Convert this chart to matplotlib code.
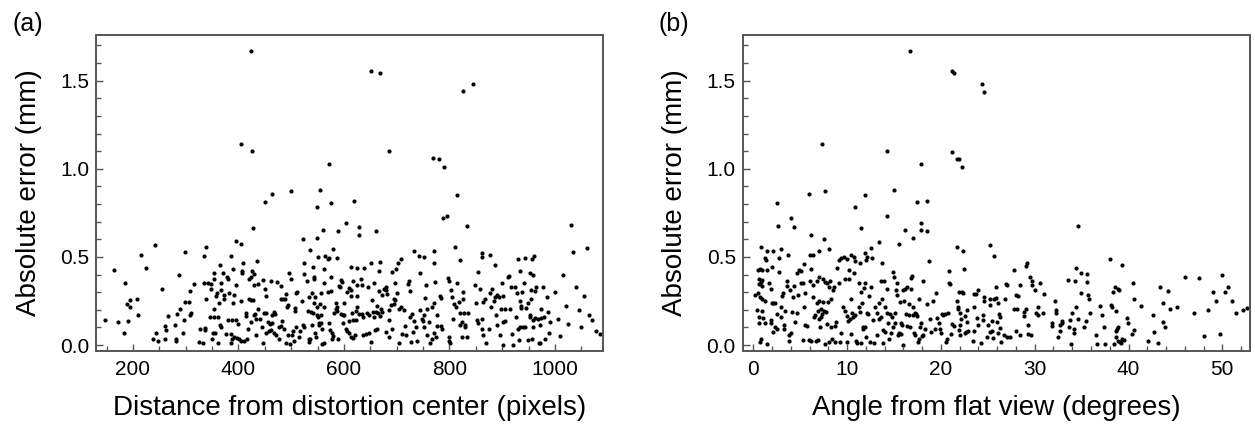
import matplotlib
matplotlib.use("Agg")
import matplotlib.pyplot as plt
from matplotlib.ticker import MultipleLocator, FormatStrFormatter

plt.rcParams['font.family'] = ['Liberation Sans', 'DejaVu Sans']

# ---------------- Panel (a): distance from distortion center ----------------
dist_px = [
    423, 404, 426, 463, 450, 500, 555, 549, 560, 428,
    242, 216, 165, 225, 298, 338, 334, 396, 404, 385,
    523, 548, 536, 550, 409, 435, 524, 541, 563,
    185, 188, 194, 195, 208, 210, 147, 172, 190, 184,
    255, 238, 244, 247, 261, 262, 266, 260, 280, 281,
    281, 284, 287, 290, 294, 296, 298, 308, 306, 311,
    309, 316, 325, 328, 333, 334, 337, 338, 337, 343,
    348, 348, 347, 349, 352, 356, 353, 354, 354, 354,
    357, 359, 362, 362, 363, 365, 365, 367, 366, 366,
    371, 373, 372, 376, 378, 381, 380, 383, 385, 386,
    387, 387, 389, 390, 391, 392, 396, 396, 397, 400,
    401, 404, 405, 407, 407, 410, 414, 415, 416, 419,
    420, 420, 423, 423, 424, 425, 428, 429, 429, 430,
    432, 433, 434, 438, 438, 440, 444, 447, 447, 448,
    450, 452, 452, 453, 456, 457, 459, 461, 462, 463,
    464, 467, 468, 469, 472, 473, 476, 477, 480, 480,
    481, 482, 485, 486, 488, 490, 490, 492, 493, 493,
    495, 497, 499, 501, 504, 506, 507, 507, 509, 510,
    511, 514, 516, 520, 523, 524, 525, 530, 531, 533,
    533, 534, 536, 538, 539, 540, 541, 543, 543, 544,
    545, 545, 547, 548, 549, 550, 552, 553, 555, 558,
    559, 562, 562, 563,
    652, 668, 826, 845, 685, 572, 575, 619, 768, 781,
    790, 814, 787, 796, 834, 588, 604, 629, 629, 661,
    580, 565, 572, 570, 586, 732, 742, 752, 771,
    770, 810, 820, 862, 862, 876, 887, 929, 944, 957,
    960, 613, 625, 638, 651, 668, 667, 692, 699, 703,
    708, 744, 855, 934, 952, 959, 912,
    557, 557, 557, 569, 571, 574, 575, 575, 577, 577,
    580, 582, 584, 585, 586, 586, 588, 590, 593, 594,
    595, 596, 598, 599, 601, 601, 604, 606, 606, 609,
    610, 610, 613, 613, 614, 615, 617, 618, 618, 620,
    622, 623, 624, 625, 625, 629, 633, 634, 634, 636,
    637, 641, 643, 646, 647, 648, 651, 653, 655, 656,
    657, 658, 660, 662, 662, 665, 666, 668, 670, 672,
    673, 676, 679, 679, 680, 681, 685, 685, 686, 689,
    692, 694, 695, 697, 697, 700, 704, 705, 708, 710,
    713, 716, 718, 721, 724, 725, 725, 728, 729, 730,
    733, 737, 739, 744, 748, 749, 751, 751, 754, 756,
    757, 758, 761, 763, 766, 767, 770, 771, 772, 775,
    776, 777, 782, 783, 783, 785, 797, 799, 799, 800,
    801, 802, 805, 807, 809, 813, 815, 818, 820, 820,
    823, 824, 825, 826, 828, 829, 830, 833, 835, 849,
    850, 852, 855, 858, 861, 862, 863, 864, 867, 869,
    874, 877, 878, 881, 885, 886, 888, 890, 891, 893,
    895, 897, 900, 901, 901, 902, 905, 906, 911, 915,
    917, 919, 921, 924, 926, 928, 930, 931, 933, 934,
    935, 936, 938, 940, 941, 944, 945, 948, 949, 952,
    953, 954, 955, 957, 958, 959, 962, 963, 964, 967,
    969, 971, 972, 973, 974, 977, 979, 981, 984, 987,
    988, 990,
    1000, 1005, 1010, 1015, 1020, 1025, 1030, 1035, 1040, 1045,
    1050, 1055, 1060, 1065, 1070, 1078, 1085,
]
dist_err = [
    1.669, 1.139, 1.101, 0.855, 0.812, 0.876, 0.880, 0.785, 0.653, 0.664,
    0.570, 0.513, 0.426, 0.437, 0.528, 0.558, 0.505, 0.589, 0.573, 0.505,
    0.604, 0.607, 0.541, 0.498, 0.464, 0.479, 0.467, 0.441, 0.430,
    .350, .233, .256, .218, .259, .168, .142, .131, .138, .066,
    .320, .036, .066, .021, .108, .085, .165, .032, .116, .036,
    .021, .176, .396, .206, .066, .142, .244, .305, .244, .184,
    .172, .346, .017, .093, .010, .354, .085, .259, .097, .350,
    .346, .316, .161, .032, .070, .066, .377, .407, .206, .157,
    .278, .293, .161, .010, .240, .116, .456, .104, .350, .312,
    .411, .263, .286, .063, .388, .373, .142, .293, .010, .063,
    .142, .036, .237, .434, .286, .047, .142, .343, .040, .119,
    .032, .025, .248, .422, .407, .021, .184, .165, .032, .093,
    .259, .377, .256, .131, .388, .418, .256, .403, .168, .339,
    .176, .146, .059, .346, .202, .150, .100, .369, .013, .180,
    .320, .180, .066, .278, .131, .078, .119, .085, .365, .123,
    .168, .187, .066, .176, .059, .358, .032, .100, .108, .259,
    .335, .134, .263, .089, .263, .290, .013, .218, .225, .059,
    .407, .006, .373, .059, .078, .021, .195, .210, .104, .293,
    .301, .047, .078, .252, .112, .403, .104, .365, .195, .032,
    .017, .274, .036, .187, .112, .297, .180, .237, .384, .377,
    .070, .274, .047, .168, .218, .157, .112, .123, .233, .093,
    .006, .010, .354, .218,
    1.557, 1.542, 1.440, 1.480, 1.099, 1.027, 0.808, 0.819, 1.061, 1.058,
    1.009, 0.853, 0.723, 0.734, 0.676, 0.649, 0.694, 0.670, 0.623, 0.645,
    .547, .505, .494, .486, .494, .535, .505, .498, .535,
    .464, .558, .483, .520, .498, .513, .452, .486, .494, .486,
    .505, .445, .437, .437, .464, .471, .418, .415, .430, .467,
    .486, .407, .415, .422, .411, .396, .392,
    .293, .172, .123, .301, .123, .085, .384, .309, .066, .032,
    .051, .180, .240, .206, .218, .191, .032, .335, .327, .176,
    .369, .358, .168, .123, .237, .168, .093, .301, .081, .324,
    .066, .138, .312, .047, .278, .180, .142, .365, .040, .059,
    .191, .142, .278, .218, .339, .176, .373, .176, .339, .055,
    .161, .063, .184, .331, .172, .070, .017, .256, .187, .161,
    .350, .085, .187, .221, .093, .184, .309, .165, .202, .282,
    .187, .320, .331, .074, .312, .289, .199, .142, .044, .225,
    .093, .259, .233, .350, .256, .297, .010, .206, .214, .063,
    .199, .108, .055, .346, .365, .309, .157, .017, .176, .074,
    .138, .104, .025, .199, .150, .134, .100, .168, .267, .339,
    .055, .206, .131, .013, .032, .214, .237, .070, .358, .047,
    .172, .108, .278, .108, .267, .093, .380, .365, .025, .047,
    .013, .312, .274, .150, .233, .214, .350, .244, .116, .184,
    .047, .131, .301, .259, .184, .112, .100, .044, .180, .339,
    .237, .142, .123, .316, .146, .093, .244, .059, .259, .010,
    .093, .297, .218, .320, .252, .274, .172, .282, .112, .274,
    .059, .202, .350, .131, .002, .278, .202, .134, .384, .206,
    .327, .063, .002, .327, .157, .297, .093, .029, .252, .104,
    .221, .210, .301, .104, .354, .100, .210, .029, .237, .157,
    .168, .312, .263, .036, .142, .100, .153, .309, .327, .146,
    .013, .112, .010, .206, .153, .331, .161, .036, .274, .187,
    .066, .131,
    .30, .15, .05, .40, .22, .12, .68, .53, .33, .20,
    .10, .28, .55, .17, .14, .08, .06,
]

# ---------------- Panel (b): angle from flat view ----------------
angle_deg = [
    16.71, 7.29, 14.29, 21.19, 21.40, 21.19, 21.75, 17.85, 5.97, 7.68,
    11.87, 15.00, 2.49, 10.88, 17.42, 18.56, 3.98, 2.63, 4.34, 14.29,
    11.52, 17.85, 16.14, 17.92, 18.48, 6.19, 7.54, 17.06, 13.37, 15.50,
    21.68, 0.79, 2.92, 8.04, 1.50, 2.07, 12.51, 3.70, 6.05, 6.40,
    11.87, 1.21, 1.35, 1.99, 2.78, 5.41, 18.70, 9.10, 9.39, 9.67,
    10.38, 10.74, 10.81, 12.02, 12.16, 12.66, 13.72, 7.04, 9.96, 11.38,
    0.50, 0.71, 0.97, 1.50, 0.57, 0.79, 0.93, 0.64, 0.93, 0.15,
    0.50, 0.71, 0.97, 1.21, 0.36, 0.57, 0.93, 1.07, 0.64, 1.21,
    0.79, 0.71, 1.42, 1.71, 1.85, 1.99, 2.14, 1.85, 2.14, 1.92,
    2.35, 2.56, 2.35, 2.49, 2.78, 2.92, 2.99, 3.06, 3.20, 3.27,
    3.27, 3.42, 3.63, 3.63, 3.77, 3.84, 3.91, 4.06, 4.13, 4.27,
    4.34, 4.41, 4.62, 4.62, 4.77, 4.84, 5.05, 5.05, 5.26, 5.33,
    5.41, 5.48, 5.55, 5.76, 5.97, 6.05, 6.12, 6.19, 6.33, 6.40,
    6.47, 6.61, 6.69, 6.76, 6.83, 6.90, 6.90, 6.97, 7.04, 7.04,
    7.11, 7.18, 7.25, 7.32, 7.40, 7.47, 7.54, 7.61, 7.68, 7.75,
    7.82, 7.89, 7.96, 8.04, 8.11, 8.18, 8.25, 8.32, 8.39, 8.46,
    8.60, 8.68, 8.75, 8.82, 8.96, 9.10, 9.25, 9.39, 9.53, 9.74,
    9.81, 9.96, 9.96, 10.10, 10.17, 10.24, 10.31, 10.38, 10.45, 10.52,
    10.67, 10.74, 10.88, 10.95, 11.09, 11.23, 11.31, 11.38, 11.45, 11.52,
    11.59, 11.66, 11.73, 11.80, 11.87, 11.95, 12.02, 12.09, 12.23, 12.37,
    12.44, 12.59, 12.73, 12.87, 12.94, 13.15, 13.22, 13.37, 13.44, 13.58,
    13.65, 13.72, 13.79, 13.86, 13.93, 14.01, 14.08, 14.22, 14.29, 14.36,
    14.50, 14.57, 14.72, 14.79, 14.86, 14.93, 15.00, 15.07, 15.14, 15.21,
    15.29, 15.36, 15.43, 15.57, 15.64, 15.71, 15.78, 15.85, 15.93, 16.00,
    16.07, 16.21, 16.28, 16.35, 16.42, 16.57, 16.64, 16.71, 16.78, 16.85,
    16.92, 16.99, 17.06, 17.13, 17.20, 17.28, 17.35, 17.49, 17.56, 17.63,
    17.70, 17.77, 17.92, 17.99, 18.06, 18.13, 18.34, 18.48, 18.84,
    18.98, 19.19, 19.34, 19.48, 19.62, 19.76, 19.91, 20.05, 20.12, 20.26,
    20.40, 20.55, 20.62, 20.76, 20.83, 20.90, 20.97, 21.11, 21.19, 21.40,
    21.68, 21.82, 21.90, 21.97,
    24.34, 24.56, 21.90, 22.28, 34.65, 22.35, 25.27, 25.62, 22.50, 38.06,
    39.27, 46.02, 27.75, 29.18, 29.11, 33.58, 34.37, 34.93, 35.57, 34.29,
    35.57, 29.53, 29.67, 29.67, 30.60, 30.03, 30.95,
    22.21, 22.35, 21.86, 22.00, 22.14, 22.57, 22.78, 22.78, 22.07, 22.07,
    22.57, 22.71, 22.85, 23.42, 23.56, 23.49, 23.56, 23.77, 23.99, 23.85,
    23.99, 24.27, 24.49, 24.49, 24.63, 24.63, 24.91, 24.98, 25.20, 25.27,
    25.27, 25.41, 25.48, 25.55, 25.62, 25.84, 25.84, 25.98, 26.05, 26.12,
    26.19, 26.26, 26.33, 26.40, 26.69, 26.83, 26.90, 27.04, 27.04, 27.40,
    27.75, 27.97, 28.04, 28.11, 28.25, 28.39, 28.39, 28.82, 28.89, 29.03,
    29.25, 29.32, 29.60, 30.17, 30.39, 30.39, 30.88, 31.81, 31.88, 32.16,
    32.23, 32.30, 32.52, 32.66, 32.73, 32.87, 32.94, 33.65, 33.80, 33.87,
    34.01, 34.22, 34.22, 34.44, 34.58, 34.93, 35.22, 35.50, 35.64, 35.79,
    35.93, 36.50, 36.64, 37.00, 37.21, 37.35, 37.49, 38.13, 38.27, 38.35,
    38.56, 38.63, 38.70, 38.77, 38.84, 38.92, 38.99, 38.49, 38.70, 38.91,
    39.06, 39.20, 39.34, 39.55, 39.84, 39.91, 40.41, 40.55, 40.48, 40.62,
    41.33, 42.11, 42.61, 42.75, 43.11, 43.32, 43.68, 43.68, 43.89, 44.17,
    44.46, 45.17, 47.02,
    47.5, 48.0, 48.5, 49.0, 49.3, 49.7, 50.0, 50.3, 50.6, 51.0,
    51.5, 52.2, 52.6,
]
angle_err = [
    1.669, 1.139, 1.101, 1.557, 1.546, 1.097, 1.058, 1.026, 0.855, 0.876,
    .853, .880, .808, .785, .812, .819, .723, .676, .670, .734,
    .666, .694, .651, .653, .645, .623, .604, .606, .587, .571,
    .558, .558, .547, .547, .535, .532, .551, .513, .509, .509,
    .520, .494, .483, .441, .494, .460, .475, .483, .494, .501,
    .509, .498, .479, .483, .501, .494, .467, .535, .486, .464,
    .426, .433, .426, .426, .373, .358, .369, .346, .335, .282,
    .293, .274, .259, .252, .199, .157, .195, .153, .123, .123,
    .032, .017, .006, .350, .320, .237, .240, .142, .074, .123,
    .237, .176, .104, .093, .415, .218, .161, .278, .293, .112,
    .089, .191, .365, .335, .055, .025, .312, .070, .187, .271,
    .335, .131, .411, .184, .282, .426, .422, .350, .029, .354,
    .214, .293, .112, .108, .029, .365, .430, .021, .339, .271,
    .161, .168, .025, .240, .361, .195, .029, .150, .388, .252,
    .104, .161, .206, .176, .377, .244, .195, .006, .358, .187,
    .119, .350, .244, .017, .331, .365, .259, .104, .032, .312,
    .327, .017, .108, .131, .437, .350, .017, .070, .218, .377,
    .191, .165, .017, .134, .426, .373, .150, .263, .063, .184,
    .157, .407, .168, .025, .013, .214, .350, .187, .010, .301,
    .237, .104, .093, .324, .100, .350, .047, .184, .176, .278,
    .017, .327, .142, .013, .218, .184, .055, .146, .240, .161,
    .361, .259, .010, .085, .365, .214, .074, .180, .320, .123,
    .032, .176, .070, .161, .415, .100, .388, .180, .127, .312,
    .286, .350, .055, .070, .244, .127, .063, .116, .312, .002,
    .252, .320, .176, .331, .108, .233, .168, .104, .380, .316,
    .392, .218, .168, .070, .180, .055, .176, .165, .017, .263,
    .032, .104, .127, .051, .365, .055, .093, .233, .150,
    .074, .252, .093, .293, .153, .123, .093, .066, .176, .168,
    .176, .017, .032, .180, .354, .418, .346, .063, .119, .108,
    .252, .218, .085, .301,
    1.480, 1.438, 1.055, 1.009, 0.676, 0.535, 0.570, 0.505, 0.431, 0.486,
    .452, .384, .426, .467, .448, .371, .437, .411, .403, .365,
    .358, .384, .361, .339, .354, .312, .289,
    .301, .297, .202, .180, .146, .165, .199, .131, .112, .059,
    .066, .074, .078, .025, .218, .078, .289, .289, .312, .153,
    .116, .013, .168, .142, .274, .248, .044, .116, .263, .229,
    .074, .078, .138, .040, .263, .327, .267, .131, .066, .240,
    .176, .157, .097, .017, .055, .263, .346, .339, .047, .047,
    .206, .081, .286, .206, .278, .343, .059, .187, .165, .202,
    .116, .063, .055, .184, .168, .214, .184, .123, .108, .252,
    .199, .184, .047, .112, .081, .134, .123, .100, .142, .006,
    .180, .093, .066, .214, .146, .297, .100, .138, .282, .259,
    .180, .059, .006, .221, .172, .104, .006, .225, .214, .301,
    .327, .195, .078, .093, .100, .320, .312, .006, .044, .025,
    .017, .010, .032, .029, .153, .123, .063, .085, .350, .263,
    .221, .025, .168, .074, .010, .327, .240, .131, .100, .309,
    .202, .214, .184,
    .38, .05, .20, .30, .25, .06, .40, .30, .33, .25,
    .18, .20, .21,
]

W, H = 1255, 436
fig = plt.figure(figsize=(W / 100, H / 100), dpi=100)

spine_col = '#555555'
tick_fs = 15
label_fs = 20


def style(ax):
    for s in ax.spines.values():
        s.set_color(spine_col)
        s.set_linewidth(1.4)
    ax.tick_params(which='both', direction='in', colors=spine_col,
                   labelcolor='black', labelsize=tick_fs, top=False, right=False)
    ax.tick_params(which='major', length=5, width=1.0)
    ax.tick_params(which='minor', length=3.5, width=1.0)
    ax.tick_params(axis='x', which='major', pad=7)
    ax.tick_params(axis='y', which='major', pad=5)
    ax.yaxis.set_major_locator(MultipleLocator(0.5))
    ax.yaxis.set_minor_locator(MultipleLocator(0.1))
    ax.yaxis.set_major_formatter(FormatStrFormatter('%.1f'))
    ax.set_ylim(-0.032, 1.761)
    ax.set_ylabel('Absolute error (mm)', fontsize=label_fs, labelpad=13)


def px_axes(left, right, top, bottom):
    return fig.add_axes([left / W, 1 - bottom / H, (right - left) / W, (bottom - top) / H])


ax1 = px_axes(96, 603, 34.7, 350.7)
ax1.scatter(dist_px, dist_err, s=9, c='black', linewidths=0)
ax1.set_xlim(130, 1091)
ax1.xaxis.set_major_locator(MultipleLocator(200))
ax1.xaxis.set_minor_locator(MultipleLocator(50))
style(ax1)
ax1.set_xlabel('Distance from distortion center (pixels)', fontsize=label_fs, labelpad=11)

ax2 = px_axes(742.7, 1250, 34.7, 350.7)
ax2.scatter(angle_deg, angle_err, s=9, c='black', linewidths=0)
ax2.set_xlim(-1.13, 52.95)
ax2.xaxis.set_major_locator(MultipleLocator(10))
ax2.xaxis.set_minor_locator(MultipleLocator(2))
style(ax2)
ax2.set_xlabel('Angle from flat view (degrees)', fontsize=label_fs, labelpad=11)

fig.text(12 / W, 1 - 24 / H, '(a)', fontsize=18, va='center', ha='left')
fig.text(659 / W, 1 - 24 / H, '(b)', fontsize=18, va='center', ha='left')

fig.savefig('out.png', dpi=100)
